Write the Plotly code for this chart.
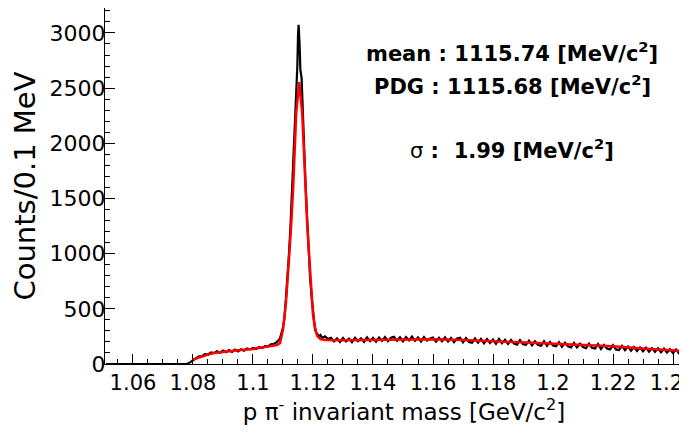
import numpy as np
import plotly.graph_objects as go

# ---------------- data ----------------
# black histogram, low-mass side (1 MeV steps, 1.051 .. 1.109 GeV)
black_low_start = 1.051
black_low_counts = [0] * 28 + [
    15, 38, 52, 70, 72, 90, 86, 104, 98, 116, 102, 121, 106, 126, 110, 130,
    114, 134, 120, 140, 132, 146, 136, 154, 144, 162, 160, 178, 182, 200, 232]

# black histogram, peak region (GeV, counts)
black_peak_mass = [1.1100, 1.1105, 1.1110, 1.1115, 1.1120, 1.1125, 1.1130, 1.1135,
                   1.1140, 1.1145, 1.1148, 1.1150, 1.1152, 1.1155, 1.1158, 1.1162,
                   1.1165, 1.1170, 1.1175, 1.1180, 1.1185, 1.1190, 1.1195, 1.1200,
                   1.1205, 1.1210, 1.1215, 1.1220, 1.1225, 1.1230]
black_peak_counts = [330, 420, 600, 780, 1000, 1250, 1550, 1850,
                     2150, 2450, 2710, 2970, 3073, 2920, 2665, 2590,
                     2350, 2000, 1650, 1350, 1050, 800, 620, 470,
                     360, 290, 275, 250, 262, 236]

# black histogram, high-mass tail (1 MeV steps, 1.124 .. 1.250 GeV)
black_tail_start = 1.124
black_tail_counts = [
    250, 226, 238, 205, 232, 200, 236, 204, 230, 198, 238, 206, 232, 200, 242, 208,
    236, 202, 240, 210, 244, 206, 238, 246, 210, 242, 206, 245, 214, 248, 210, 240,
    204, 244, 212, 232, 240, 202, 238, 206, 242, 204, 236, 198, 232, 238, 196, 234,
    200, 192, 232, 194, 228, 188, 226, 190, 222, 184, 226, 188, 220, 182, 218, 186,
    176, 216, 180, 174, 212, 170, 206, 172, 166, 206, 164, 200, 168, 160, 198, 156,
    192, 160, 150, 190, 150, 184, 154, 144, 184, 146, 140, 180, 136, 172, 140, 132,
    170, 132, 126, 164, 126, 158, 120, 154, 118, 150, 116, 148, 112, 144, 110, 142,
    106, 138, 104, 134, 100, 132, 98, 128, 96, 122, 94, 118, 92, 114, 90]

# red fit curve
fit_mass = [1.0800, 1.0820, 1.0850, 1.0870, 1.0900, 1.0950, 1.1000, 1.1050, 1.1080,
            1.1090, 1.1100, 1.1110, 1.1115, 1.1120, 1.1127, 1.1134, 1.1144, 1.1154,
            1.1164, 1.1174, 1.1181, 1.1188, 1.1194, 1.1200, 1.1207, 1.1215, 1.1225,
            1.1240, 1.1300, 1.1400, 1.1500, 1.1600, 1.1700, 1.1800, 1.1900, 1.2000,
            1.2100, 1.2200, 1.2300, 1.2400, 1.2500]
fit_counts = [40, 60, 85, 100, 110, 124, 136, 158, 172,
              190, 310, 560, 720, 950, 1250, 1600, 2270, 2555,
              2270, 1600, 1250, 950, 664, 450, 312, 250, 225,
              218, 216, 220, 226, 224, 218, 207, 196, 185,
              173, 160, 141, 124, 106]

x_tick_vals = [1.06, 1.08, 1.10, 1.12, 1.14, 1.16, 1.18, 1.20, 1.22, 1.24]
x_tick_text = ["1.06", "1.08", "1.1", "1.12", "1.14", "1.16", "1.18", "1.2", "1.22", "1.24"]
y_tick_vals = [0, 500, 1000, 1500, 2000, 2500, 3000]
y_tick_text = ["0", "500", "1000", "1500", "2000", "2500", "3000"]

labels = ["<b>mean : 1115.74 [MeV/c<sup>2</sup>]</b>",
          "<b>PDG : 1115.68 [MeV/c<sup>2</sup>]</b>",
          "σ<b> :\u00a0\u00a01.99 [MeV/c<sup>2</sup>]</b>"]

# ---------------- assemble ----------------
low_x = black_low_start + 0.001 * np.arange(len(black_low_counts))
tail_x = black_tail_start + 0.001 * np.arange(len(black_tail_counts))
hist_x = list(low_x) + black_peak_mass + list(tail_x)
hist_y = black_low_counts + black_peak_counts + black_tail_counts

FONT = "DejaVu Sans"

fig = go.Figure()
fig.add_trace(go.Scatter(x=hist_x, y=hist_y, mode="lines",
                         line=dict(color="black", width=2.2), showlegend=False))
fig.add_trace(go.Scatter(x=fit_mass, y=fit_counts, mode="lines",
                         line=dict(color="#ff0000", width=2.5), showlegend=False))

ann_y = [0.876, 0.784, 0.604]
for txt, yy in zip(labels, ann_y):
    fig.add_annotation(text=txt, xref="paper", yref="paper", x=0.681, y=yy,
                       xanchor="center", yanchor="middle", showarrow=False,
                       font=dict(family=FONT, size=21, color="black"))

# the page body adds an 8px offset; margins compensate, window crops the right side
fig.update_layout(
    width=695, height=434,
    margin=dict(l=97, r=0, t=0, b=78, autoexpand=False),
    paper_bgcolor="white", plot_bgcolor="white",
    font=dict(family=FONT, color="black"),
)
fig.update_xaxes(
    range=[1.05067, 1.25], tickvals=x_tick_vals, ticktext=x_tick_text,
    ticks="inside", ticklen=10, tickwidth=1, tickcolor="black",
    minor=dict(dtick=0.005, tick0=1.06, ticks="inside", ticklen=5, tickcolor="black"),
    showline=True, linecolor="black", linewidth=1, mirror=True,
    showgrid=False, zeroline=False, automargin=False,
    tickfont=dict(family=FONT, size=21, color="black"),
    title=dict(text="p π<sup>-</sup> invariant mass [GeV/c<sup>2</sup>]",
               font=dict(family=FONT, size=23, color="black"), standoff=7),
)
fig.update_yaxes(
    range=[0, 3226], tickvals=y_tick_vals, ticktext=y_tick_text,
    ticks="inside", ticklen=10, tickwidth=1, tickcolor="black",
    ticklabelstandoff=-6,
    minor=dict(dtick=100, tick0=0, ticks="inside", ticklen=5, tickcolor="black"),
    showline=True, linecolor="black", linewidth=1,
    showgrid=False, zeroline=False, automargin=False,
    tickfont=dict(family=FONT, size=22, color="black"),
    title=dict(text="Counts/0.1 MeV", font=dict(family=FONT, size=29, color="black"),
               standoff=11),
)

fig.write_html("out.html")
